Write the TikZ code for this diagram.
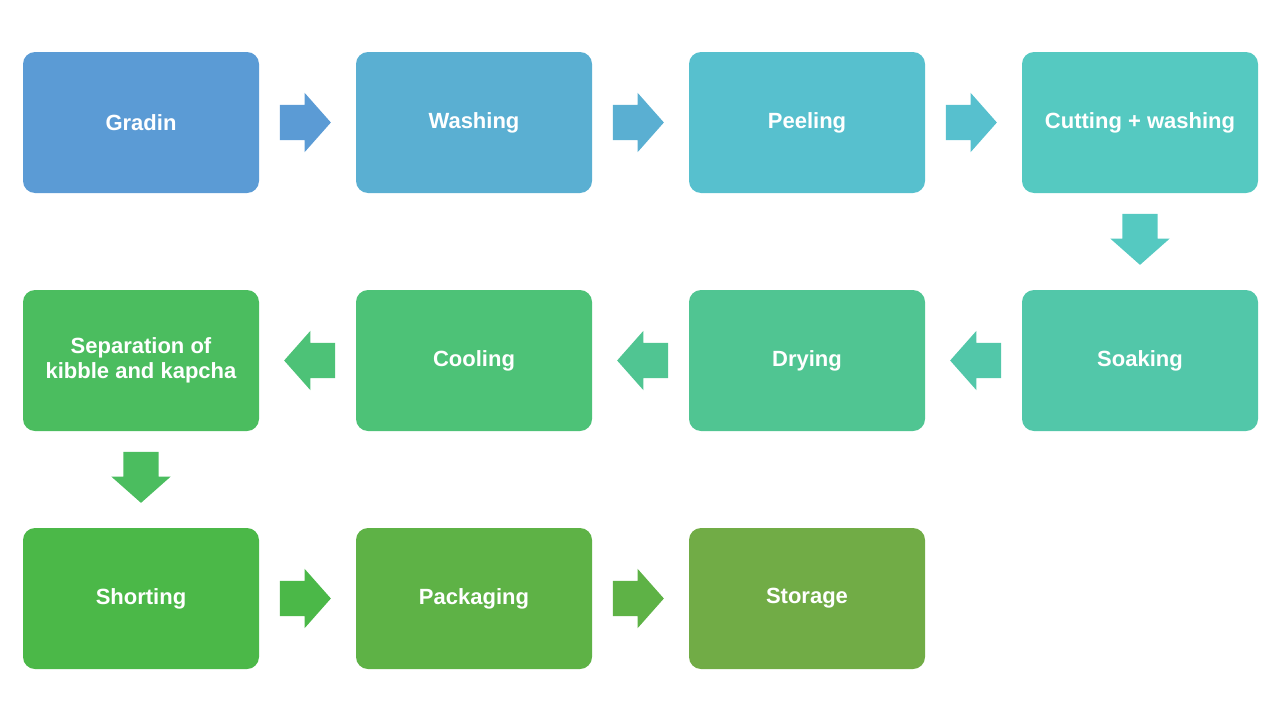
\documentclass[tikz,border=0pt]{standalone}
\usepackage{fontspec}
\setmainfont{Liberation Sans}
\usetikzlibrary{shapes.arrows}
\definecolor{cA}{HTML}{5B9BD5}
\definecolor{cB}{HTML}{5AAFD2}
\definecolor{cC}{HTML}{57C0CE}
\definecolor{cD}{HTML}{55C9C1}
\definecolor{cE}{HTML}{52C7A9}
\definecolor{cF}{HTML}{50C592}
\definecolor{cG}{HTML}{4DC277}
\definecolor{cH}{HTML}{4BBD5F}
\definecolor{cI}{HTML}{4BB848}
\definecolor{cJ}{HTML}{5EB246}
\definecolor{cK}{HTML}{71AC46}
\begin{document}
\begin{tikzpicture}[x=1pt, y=-1pt,
    stepbox/.style={rectangle, rounded corners=12pt, minimum width=236pt, minimum height=141pt,
        text=white, font=\fontsize{22}{25}\selectfont\bfseries, align=center, inner sep=0pt},
    blockarrow/.style={single arrow, inner sep=17.5pt, minimum height=51pt,
        single arrow head extend=12pt, single arrow tip angle=97},
    rarrow/.style={blockarrow, xshift=-10pt},
    larrow/.style={blockarrow, shape border rotate=180, xshift=10pt},
    darrow/.style={blockarrow, shape border rotate=270, yshift=10pt}]
    \useasboundingbox (0,0) rectangle (1280,720);
    \node[stepbox, fill=cA] (A) at (141,122.5) {Gradin};
    \node[stepbox, fill=cB] (B) at (474,122.5) {Washing};
    \node[stepbox, fill=cC] (C) at (807,122.5) {Peeling};
    \node[stepbox, fill=cD] (D) at (1140,122.5) {Cutting + washing};
    \node[stepbox, fill=cE] (E) at (1140,360.5) {Soaking};
    \node[stepbox, fill=cF] (F) at (807,360.5) {Drying};
    \node[stepbox, fill=cG] (G) at (474,360.5) {Cooling};
    \node[stepbox, fill=cH] (H) at (141,360.5) {Separation of\\kibble and kapcha};
    \node[stepbox, fill=cI] (I) at (141,598.5) {Shorting};
    \node[stepbox, fill=cJ] (J) at (474,598.5) {Packaging};
    \node[stepbox, fill=cK] (K) at (807,598.5) {Storage};
    \path (A) -- node[rarrow, fill=cA] {} (B);
    \path (B) -- node[rarrow, fill=cB] {} (C);
    \path (C) -- node[rarrow, fill=cC] {} (D);
    \path (D) -- node[darrow, fill=cD] {} (E);
    \path (E) -- node[larrow, fill=cE] {} (F);
    \path (F) -- node[larrow, fill=cF] {} (G);
    \path (G) -- node[larrow, fill=cG] {} (H);
    \path (H) -- node[darrow, fill=cH] {} (I);
    \path (I) -- node[rarrow, fill=cI] {} (J);
    \path (J) -- node[rarrow, fill=cJ] {} (K);
\end{tikzpicture}
\end{document}
